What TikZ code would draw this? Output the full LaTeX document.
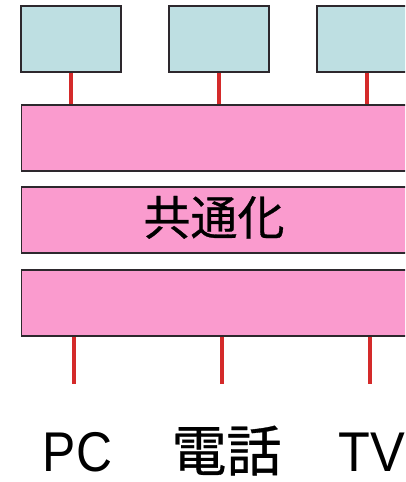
\documentclass[tikz,border=0pt]{standalone}
\usepackage{fontspec}
\setmainfont{Liberation Sans}
\newfontfamily\cjk[FakeBold=0.6]{Noto Sans CJK JP}
\definecolor{boxcyan}{RGB}{190,223,226}
\definecolor{barpink}{RGB}{250,155,206}
\definecolor{linkred}{RGB}{212,42,42}
\definecolor{edgedark}{RGB}{45,40,45}
\tikzset{
  devbox/.style={draw=edgedark, fill=boxcyan, line width=1.4pt, minimum width=100pt, minimum height=66pt, inner sep=0pt},
  layerbar/.style={draw=edgedark, fill=barpink, line width=1.4pt, minimum width=404pt, minimum height=66pt, inner sep=0pt, anchor=west},
  link/.style={draw=linkred, line width=3.2pt},
  lbl/.style={inner sep=0pt, anchor=base, text=black},
}
\begin{document}
\begin{tikzpicture}[x=1pt,y=-1pt]
\useasboundingbox (0,0) rectangle (405,482);
\fill[white] (0,0) rectangle (405,482);
\clip (0,0) rectangle (405,482);
% top devices
\node[devbox] (d1) at (71,39) {};
\node[devbox] (d2) at (219,39) {};
\node[devbox] (d3) at (367,39) {};
% layers
\node[layerbar] (bar1) at (21,138) {};
\node[layerbar] (bar2) at (21,220) {};
\node[layerbar] (bar3) at (21,303) {};
\node[lbl, font=\cjk\fontsize{47}{47}\selectfont] (common) at (214,235) {共通化};
% top links
\draw[link] (d1.south) -- (d1.south |- bar1.north);
\draw[link] (d2.south) -- (d2.south |- bar1.north);
\draw[link] (d3.south) -- (d3.south |- bar1.north);
% bottom links
\coordinate (e1) at (74,384);
\coordinate (e2) at (222,384);
\coordinate (e3) at (370,384);
\draw[link] (e1 |- bar3.south) -- (e1);
\draw[link] (e2 |- bar3.south) -- (e2);
\draw[link] (e3 |- bar3.south) -- (e3);
% labels
\node[lbl, font=\fontsize{56}{56}\selectfont] (pc) at (77.5,471) {\scalebox{0.89}[1]{PC}};
\node[lbl, font=\cjk\fontsize{55}{55}\selectfont] (tel) at (226.5,471) {電話};
\node[lbl, anchor=base west, font=\fontsize{56}{56}\selectfont] (tv) at (338,471) {\scalebox{0.93}[1]{TV}};
\end{tikzpicture}
\end{document}
